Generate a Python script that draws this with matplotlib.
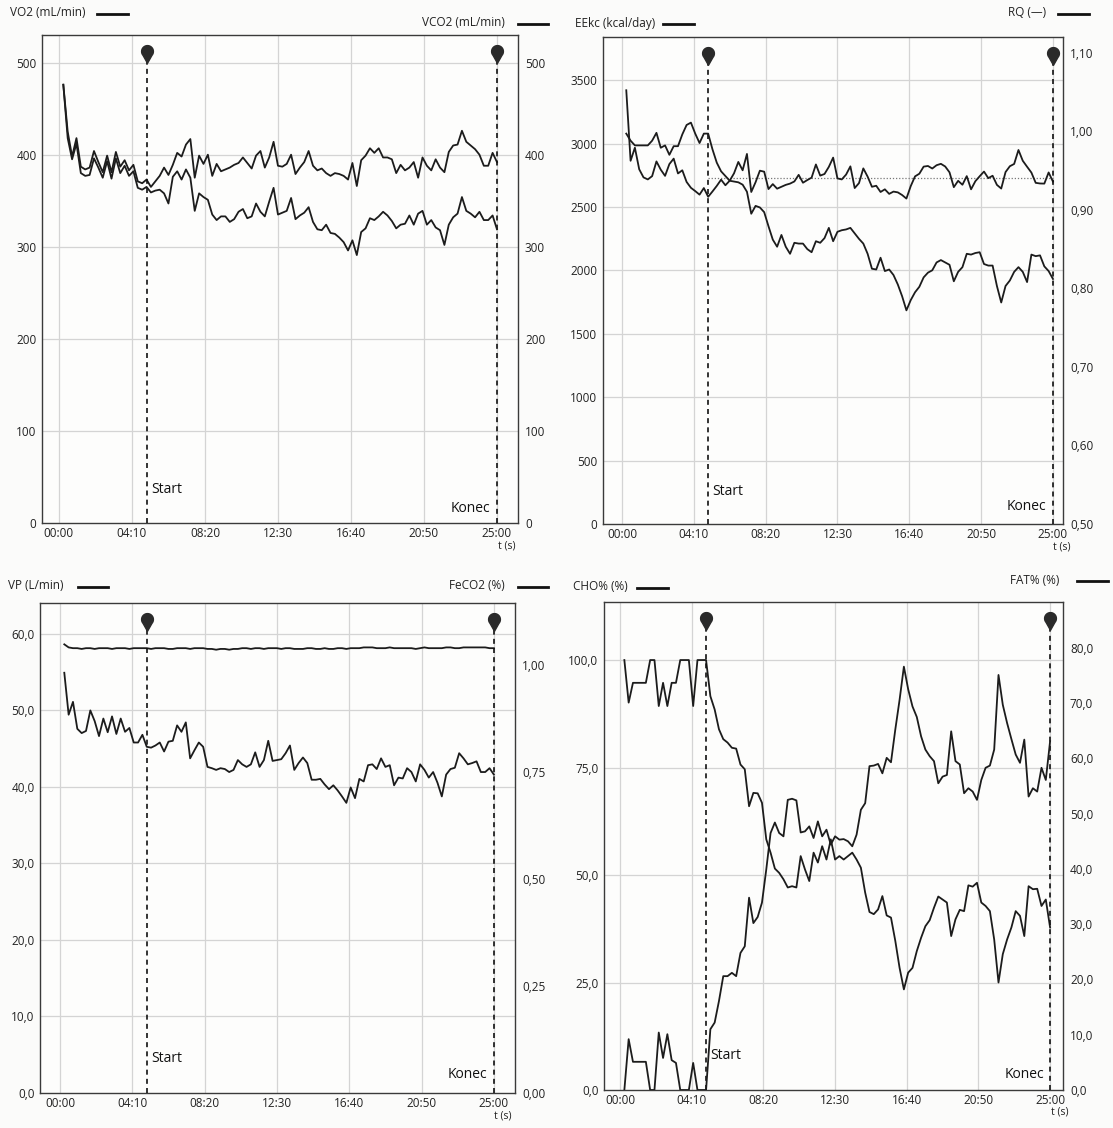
import numpy as np
import matplotlib
matplotlib.use("Agg")
import matplotlib.pyplot as plt
from matplotlib.path import Path
from matplotlib.lines import Line2D
from matplotlib.transforms import blended_transform_factory

plt.rcParams['font.family'] = ['Open Sans', 'DejaVu Sans']

# ---------------- data ----------------
t = np.arange(15, 1501, 15)   # sample times (s)

time_ticks = [0, 250, 500, 750, 1000, 1250, 1500]
time_labels = ["00:00", "04:10", "08:20", "12:30", "16:40", "20:50", "25:00"]
start_t = 300
end_t = 1500

vo2 = [476, 425, 398, 418, 387, 384, 386, 404, 392, 381,
       399, 381, 403, 387, 394, 383, 389, 371, 369, 373,
       365, 371, 377, 386, 378, 389, 402, 398, 411, 417,
       375, 399, 390, 400, 377, 390, 382, 384, 386, 389,
       391, 397, 391, 385, 399, 404, 386, 397, 414, 388,
       387, 390, 400, 379, 386, 392, 404, 388, 383, 385,
       380, 377, 380, 379, 377, 373, 391, 366, 394, 399,
       407, 402, 407, 397, 397, 395, 380, 389, 383, 386,
       392, 375, 397, 388, 383, 395, 386, 381, 403, 410,
       411, 426, 414, 410, 406, 400, 388, 388, 402, 392]

vco2 = [476, 418, 395, 412, 380, 377, 378, 396, 386, 375,
        393, 374, 396, 380, 388, 377, 382, 364, 362, 365,
        359, 361, 362, 358, 347, 376, 382, 373, 384, 375,
        339, 358, 354, 351, 335, 329, 333, 333, 327, 330,
        338, 341, 331, 333, 347, 338, 333, 349, 364, 335,
        337, 339, 353, 330, 334, 337, 343, 327, 319, 318,
        324, 315, 314, 310, 305, 296, 307, 291, 316, 320,
        331, 329, 333, 338, 334, 328, 320, 324, 325, 334,
        324, 336, 339, 324, 329, 321, 318, 302, 324, 332,
        336, 354, 339, 336, 332, 338, 329, 329, 334, 319]

eekc = [3420, 2864, 2967, 2797, 2733, 2717, 2743, 2859, 2794, 2745,
        2838, 2881, 2764, 2789, 2697, 2651, 2625, 2597, 2649, 2580,
        2622, 2666, 2715, 2671, 2707, 2765, 2855, 2789, 2918, 2618,
        2695, 2786, 2778, 2641, 2680, 2644, 2659, 2674, 2684, 2701,
        2753, 2691, 2712, 2731, 2835, 2747, 2760, 2816, 2889, 2725,
        2717, 2755, 2820, 2649, 2688, 2804, 2739, 2659, 2667, 2618,
        2639, 2603, 2621, 2615, 2594, 2566, 2664, 2741, 2762, 2818,
        2823, 2803, 2829, 2840, 2819, 2773, 2656, 2706, 2675, 2743,
        2639, 2703, 2742, 2779, 2727, 2746, 2674, 2645, 2775, 2821,
        2839, 2949, 2864, 2817, 2771, 2690, 2685, 2684, 2772, 2700]

rq = [0.997, 0.988, 0.982, 0.982, 0.982, 0.982, 0.988, 0.998, 0.979, 0.982,
      0.970, 0.981, 0.981, 0.996, 1.008, 1.011, 0.997, 0.985, 0.997, 0.997,
      0.977, 0.960, 0.949, 0.943, 0.937, 0.936, 0.935, 0.932, 0.923, 0.895,
      0.905, 0.903, 0.897, 0.879, 0.862, 0.853, 0.868, 0.853, 0.844, 0.858,
      0.857, 0.857, 0.850, 0.846, 0.860, 0.858, 0.864, 0.877, 0.860, 0.872,
      0.874, 0.875, 0.877, 0.870, 0.863, 0.857, 0.844, 0.825, 0.824, 0.839,
      0.822, 0.824, 0.817, 0.805, 0.790, 0.772, 0.785, 0.795, 0.802, 0.814,
      0.820, 0.823, 0.833, 0.836, 0.833, 0.830, 0.809, 0.821, 0.827, 0.844,
      0.843, 0.845, 0.846, 0.831, 0.829, 0.829, 0.803, 0.782, 0.803, 0.810,
      0.821, 0.827, 0.821, 0.808, 0.843, 0.841, 0.842, 0.828, 0.822, 0.812]

vp = [58.6, 58.2, 58.1, 58.1, 58.0, 58.1, 58.1, 58.0, 58.1, 58.1,
      58.1, 58.0, 58.1, 58.1, 58.1, 58.0, 58.1, 58.1, 58.1, 58.1,
      58.0, 58.1, 58.1, 58.1, 58.0, 58.0, 58.1, 58.1, 58.1, 58.0,
      58.1, 58.1, 58.1, 58.0, 58.0, 57.9, 58.0, 58.0, 57.9, 58.0,
      58.0, 58.1, 58.1, 58.0, 58.1, 58.1, 58.0, 58.1, 58.1, 58.1,
      58.0, 58.1, 58.1, 58.0, 58.0, 58.0, 58.1, 58.1, 58.0, 58.0,
      58.1, 58.0, 58.0, 58.1, 58.1, 58.0, 58.1, 58.1, 58.1, 58.2,
      58.2, 58.2, 58.1, 58.1, 58.1, 58.2, 58.1, 58.1, 58.1, 58.1,
      58.1, 58.0, 58.1, 58.2, 58.1, 58.1, 58.1, 58.1, 58.2, 58.2,
      58.1, 58.1, 58.2, 58.2, 58.2, 58.2, 58.2, 58.2, 58.1, 58.1]

feco2 = [0.982, 0.884, 0.914, 0.851, 0.841, 0.846, 0.894, 0.869, 0.834, 0.875,
         0.843, 0.880, 0.839, 0.875, 0.844, 0.853, 0.819, 0.819, 0.837, 0.809,
         0.807, 0.812, 0.819, 0.798, 0.821, 0.823, 0.859, 0.844, 0.866, 0.782,
         0.801, 0.819, 0.809, 0.762, 0.759, 0.755, 0.759, 0.757, 0.750, 0.755,
         0.778, 0.768, 0.762, 0.768, 0.796, 0.762, 0.778, 0.823, 0.776, 0.778,
         0.780, 0.794, 0.812, 0.755, 0.771, 0.784, 0.771, 0.732, 0.732, 0.734,
         0.721, 0.710, 0.719, 0.707, 0.693, 0.678, 0.714, 0.689, 0.734, 0.728,
         0.766, 0.768, 0.757, 0.782, 0.762, 0.766, 0.719, 0.737, 0.735, 0.759,
         0.750, 0.728, 0.768, 0.755, 0.737, 0.750, 0.725, 0.693, 0.744, 0.757,
         0.760, 0.794, 0.782, 0.768, 0.771, 0.775, 0.750, 0.750, 0.759, 0.744]

cho = [100, 90.1, 94.7, 94.7, 94.7, 94.7, 100, 100, 89.3, 94.7,
       89.3, 94.7, 94.7, 100, 100, 100, 89.3, 100, 100, 100,
       91.6, 88.5, 83.9, 81.6, 80.8, 79.6, 79.4, 75.7, 74.6, 66.0,
       69.1, 69.0, 66.8, 58.3, 55.2, 51.5, 50.5, 49.0, 47.1, 47.4,
       47.1, 54.4, 51.3, 48.6, 55.2, 52.9, 56.7, 53.6, 58.3, 53.6,
       54.4, 53.6, 54.4, 55.2, 53.6, 51.7, 45.9, 41.4, 40.9, 42.0,
       45.1, 40.6, 40.1, 34.7, 28.4, 23.4, 27.3, 28.4, 32.3, 35.4,
       38.1, 39.5, 42.4, 45.0, 44.3, 43.6, 35.8, 39.7, 41.9, 41.6,
       47.6, 47.3, 48.2, 43.6, 42.8, 41.6, 35.0, 25.0, 31.6, 35.0,
       37.8, 41.6, 40.5, 35.8, 47.4, 46.7, 46.8, 42.8, 44.3, 37.8]

fat = [0, 9.2, 5.1, 5.1, 5.1, 5.1, 0, 0, 10.4, 5.8,
       10.1, 5.4, 4.9, 0, 0, 0, 4.9, 0, 0, 0,
       11.0, 12.2, 16.1, 20.6, 20.6, 21.2, 20.6, 24.8, 26.0, 34.8,
       30.2, 31.3, 33.9, 39.9, 46.5, 48.4, 46.5, 45.9, 52.5, 52.7,
       52.4, 46.6, 46.8, 47.7, 45.6, 48.6, 45.9, 47.1, 44.4, 45.9,
       45.3, 45.4, 45.0, 44.1, 46.2, 50.7, 51.9, 58.6, 58.7, 59.0,
       57.3, 60.1, 59.3, 65.2, 70.6, 76.6, 72.5, 69.4, 67.5, 64.0,
       61.6, 60.4, 59.5, 55.5, 56.7, 57.0, 64.9, 59.5, 58.9, 53.7,
       54.6, 54.0, 52.5, 56.1, 58.3, 58.7, 61.6, 75.1, 69.7, 66.4,
       63.5, 60.7, 59.2, 63.4, 53.1, 54.6, 54.0, 58.3, 56.1, 63.1]

# axis ticks / labels
tl_left_ticks = [0, 100, 200, 300, 400, 500]
tl_left_labels = ["0", "100", "200", "300", "400", "500"]
tl_right_ticks = [0, 100, 200, 300, 400, 500]
tl_right_labels = ["0", "100", "200", "300", "400", "500"]
tr_left_ticks = [0, 500, 1000, 1500, 2000, 2500, 3000, 3500]
tr_left_labels = ["0", "500", "1000", "1500", "2000", "2500", "3000", "3500"]
tr_right_ticks = [0.5, 0.6, 0.7, 0.8, 0.9, 1.0, 1.1]
tr_right_labels = ["0,50", "0,60", "0,70", "0,80", "0,90", "1,00", "1,10"]
bl_left_ticks = [0, 10, 20, 30, 40, 50, 60]
bl_left_labels = ["0,0", "10,0", "20,0", "30,0", "40,0", "50,0", "60,0"]
bl_right_ticks = [0, 0.25, 0.5, 0.75, 1.0]
bl_right_labels = ["0,00", "0,25", "0,50", "0,75", "1,00"]
br_left_ticks = [0, 25, 50, 75, 100]
br_left_labels = ["0,0", "25,0", "50,0", "75,0", "100,0"]
br_right_ticks = [0, 10, 20, 30, 40, 50, 60, 70, 80]
br_right_labels = ["0,0", "10,0", "20,0", "30,0", "40,0", "50,0", "60,0", "70,0", "80,0"]

# ---------------- figure ----------------
W, H = 1113, 1128
fig = plt.figure(figsize=(W / 100, H / 100), dpi=100)
fig.patch.set_facecolor('#fbfbfa')

def fx(px):
    return px / W

def fy(py):
    return 1 - py / H

def rect(l, t_, r, b):
    return [fx(l), fy(b), (r - l) / W, (b - t_) / H]

INK = '#1c1c1c'
GRID = '#d4d4d4'
FS = 8.5

theta = np.radians(np.linspace(-40, 220, 40))
pin_verts = np.vstack([[0, -2.0], np.column_stack([np.cos(theta), np.sin(theta)]), [0, -2.0]])
pin = Path(pin_verts, closed=True)


def panel(box, xlim, ylim_l, ylim_r, lt, ll, rt, rl, series_l, series_r,
          start_y=0.068, konec_y=0.03, ts_y=-0.047):
    ax = fig.add_axes(rect(*box))
    ax.set_facecolor('#fdfdfc')
    ax.set_xlim(*xlim)
    ax.set_ylim(*ylim_l)
    ax.set_xticks(time_ticks)
    ax.set_xticklabels(time_labels)
    ax.set_yticks(lt)
    ax.set_yticklabels(ll)
    for v in time_ticks:
        ax.axvline(v, color=GRID, lw=0.9, zorder=0)
    for v in lt[1:]:
        ax.axhline(v, color=GRID, lw=0.9, zorder=0)
    ax.tick_params(axis='both', length=0, labelsize=FS, colors='#222')
    ax.tick_params(axis='x', pad=3)
    ax.tick_params(axis='y', pad=4)
    for s in ax.spines.values():
        s.set_color('#3a3a3a')
        s.set_linewidth(1.0)
    ax2 = ax.twinx()
    ax2.set_ylim(*ylim_r)
    ax2.set_yticks(rt)
    ax2.set_yticklabels(rl)
    ax2.tick_params(axis='y', length=0, labelsize=FS, colors='#222', pad=5)
    for s in ax2.spines.values():
        s.set_visible(False)
    ax.plot(t, series_l, color=INK, lw=1.3, zorder=3)
    ax2.plot(t, series_r, color=INK, lw=1.3, zorder=3)

    tr = blended_transform_factory(ax.transData, ax.transAxes)
    for xv in (start_t, end_t):
        ax.plot([xv, xv], [0, 0.945], transform=tr, color='#111', lw=1.2,
                ls=(0, (3, 2.5)), zorder=4)
        ax.plot([xv], [0.967], transform=tr, marker=pin, markersize=17,
                color='#2a2a2a', zorder=5, clip_on=False)
    ax.text(start_t + 15, start_y, 'Start', transform=tr, fontsize=10,
            ha='left', va='center', color='#111')
    ax.text(end_t - 22, konec_y, 'Konec', transform=tr, fontsize=10,
            ha='right', va='center', color='#111')
    ax.text(end_t + 32, ts_y, 't (s)', transform=tr, fontsize=7.5,
            ha='center', va='center', color='#222')
    return ax, ax2


def legend_label(text, tx, ty, lx0, lx1, ly, ha='left'):
    fig.text(fx(tx), fy(ty), text, fontsize=FS, ha=ha, va='center', color='#222')
    fig.add_artist(Line2D([fx(lx0), fx(lx1)], [fy(ly), fy(ly)], color='#111', lw=2.0))


# top-left: VO2 / VCO2
panel((42, 35, 518, 523), (-58, 1572), (0, 530), (0, 530),
      tl_left_ticks, tl_left_labels, tl_right_ticks, tl_right_labels,
      vo2, vco2, start_y=0.068, konec_y=0.03, ts_y=-0.047)
legend_label('VO2 (mL/min)', 10, 13, 97, 128, 14)
legend_label('VCO2 (mL/min)', 505, 23, 518, 548, 24, ha='right')

# top-right: EEkc / RQ
axtr, axtr2 = panel((603, 37, 1063, 524), (-66, 1535), (0, 3840), (0.5, 1.12),
                    tr_left_ticks, tr_left_labels, tr_right_ticks, tr_right_labels,
                    eekc, rq, start_y=0.066, konec_y=0.035, ts_y=-0.047)
ee_arr = np.array(eekc)
ee_mean = ee_arr[(t >= start_t) & (t <= end_t)].mean()
axtr.plot([start_t, end_t], [ee_mean, ee_mean], color='#777', lw=0.9, ls=(0, (1, 1.5)), zorder=2)
legend_label('EEkc (kcal/day)', 575, 24, 663, 694, 24)
legend_label('RQ (—)', 1046, 12, 1058, 1089, 14, ha='right')

# bottom-left: VP / FeCO2
panel((40, 603, 515, 1093), (-69, 1573), (0, 64), (0, 1.145),
      bl_left_ticks, bl_left_labels, bl_right_ticks, bl_right_labels,
      vp, feco2, start_y=0.07, konec_y=0.038, ts_y=-0.047)
legend_label('VP (L/min)', 8, 586, 78, 108, 587)
legend_label('FeCO2 (%)', 505, 586, 518, 548, 587, ha='right')

# bottom-right: CHO% / FAT%
panel((604, 602, 1063, 1090), (-56, 1545), (0, 113.5), (0, 88.3),
      br_left_ticks, br_left_labels, br_right_ticks, br_right_labels,
      cho, fat, start_y=0.07, konec_y=0.032, ts_y=-0.045)
legend_label('CHO% (%)', 573, 587, 637, 668, 588)
legend_label('FAT% (%)', 1059, 580, 1077, 1108, 581, ha='right')

fig.savefig('out.png', dpi=100, facecolor=fig.get_facecolor())
